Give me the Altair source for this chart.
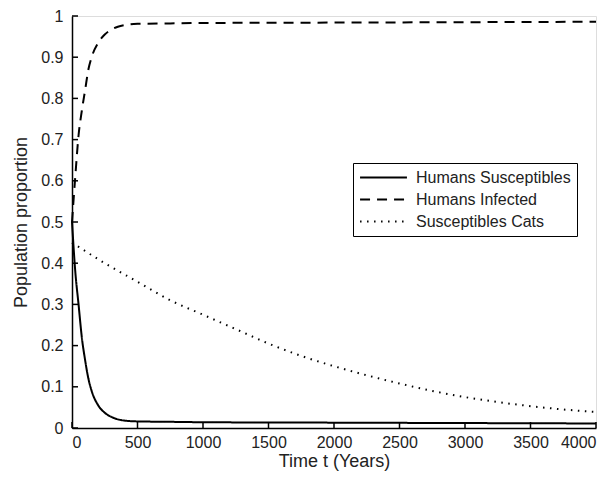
import altair as alt
import pandas as pd

# Humans susceptibles
t_hs = [0, 25, 50, 75, 100, 125, 150, 200, 250, 300, 350, 400, 500, 750, 1000, 2000, 3000, 4000]
v_hs = [0.5, 0.38, 0.30, 0.22, 0.165, 0.12, 0.09, 0.055, 0.037, 0.027, 0.021, 0.018, 0.016, 0.015, 0.014, 0.013, 0.012, 0.011]

# Humans infected
t_hi = [0, 25, 50, 75, 100, 125, 150, 200, 250, 300, 350, 400, 500, 750, 1000, 2000, 3000, 4000]
v_hi = [0.5, 0.61, 0.71, 0.77, 0.82, 0.87, 0.9, 0.935, 0.955, 0.967, 0.974, 0.978, 0.981, 0.982, 0.983, 0.984, 0.985, 0.986]

# Susceptible cats
t_sc = [0, 250, 500, 750, 1000, 1250, 1500, 1750, 2000, 2250, 2500, 2750, 3000, 3250, 3500, 3750, 4000]
v_sc = [0.45, 0.40, 0.355, 0.31, 0.275, 0.24, 0.205, 0.175, 0.15, 0.128, 0.108, 0.09, 0.075, 0.063, 0.053, 0.045, 0.039]

series = ["Humans Susceptibles", "Humans Infected", "Susceptibles Cats"]
dashes = [[1, 0], [10, 7], [1.5, 5.5]]

x_ticks = [0, 500, 1000, 1500, 2000, 2500, 3000, 3500, 4000]
y_ticks = [0, 0.1, 0.2, 0.3, 0.4, 0.5, 0.6, 0.7, 0.8, 0.9, 1]

rows = []
for name, ts, vs in zip(series, [t_hs, t_hi, t_sc], [v_hs, v_hi, v_sc]):
    for t, v in zip(ts, vs):
        rows.append({"t": t, "v": v, "series": name})
df = pd.DataFrame(rows)

FONT = "Liberation Sans"
TXT = "#222"

x_scale = alt.Scale(domain=[0, 4000], nice=False)
y_scale = alt.Scale(domain=[0, 1], nice=False)

lines = alt.Chart(df).mark_line(color="black", strokeWidth=2, interpolate="monotone").encode(
    x=alt.X("t:Q", scale=x_scale,
            axis=alt.Axis(title="Time t (Years)", values=x_ticks, format="d", tickSize=0,
                          labelPadding=6, titlePadding=2, grid=False, domainColor="black",
                          domainWidth=1.5, labelFontSize=16, titleFontSize=18,
                          labelColor=TXT, titleColor=TXT, labelFont=FONT, titleFont=FONT,
                          labelFontWeight="normal", titleFontWeight="normal")),
    y=alt.Y("v:Q", scale=y_scale,
            axis=alt.Axis(title="Population proportion", values=y_ticks, tickSize=0,
                          labelPadding=9, titlePadding=10, grid=False, domainColor="black",
                          domainWidth=1.5, labelFontSize=16, titleFontSize=18,
                          labelColor=TXT, titleColor=TXT, labelFont=FONT, titleFont=FONT,
                          labelFontWeight="normal", titleFontWeight="normal",
                          labelExpr="datum.value == 0 || datum.value == 1 ? format(datum.value, 'd') : format(datum.value, '.1f')")),
    strokeDash=alt.StrokeDash("series:N",
                              scale=alt.Scale(domain=series, range=dashes),
                              legend=alt.Legend(title=None, orient="none", legendX=281, legendY=147,
                                                symbolType="stroke", symbolSize=2200,
                                                symbolStrokeWidth=2, symbolStrokeColor="black",
                                                clipHeight=17, labelOffset=8,
                                                labelFontSize=16, labelFont=FONT, labelColor=TXT,
                                                strokeColor="black", fillColor="white",
                                                padding=6, rowPadding=5, labelLimit=300)),
    order=alt.Order("t:Q"),
)

xt = pd.DataFrame({"t": x_ticks})
yt = pd.DataFrame({"v": y_ticks})

xticks = alt.Chart(xt).mark_rule(color="black", strokeWidth=1.5).encode(
    x=alt.X("t:Q", scale=x_scale), y=alt.value(412), y2=alt.value(406))
yticks = alt.Chart(yt).mark_rule(color="black", strokeWidth=1.5).encode(
    y=alt.Y("v:Q", scale=y_scale), x=alt.value(0), x2=alt.value(6))

chart = alt.layer(lines, xticks, yticks).properties(
    width=524, height=412,
    autosize=alt.AutoSizeParams(type="none"),
    padding={"left": 64, "top": 8, "right": 11, "bottom": 44},
).configure_view(stroke=None).configure(background="white")

chart.save("out.html", embed_options={"renderer": "svg", "actions": False})
